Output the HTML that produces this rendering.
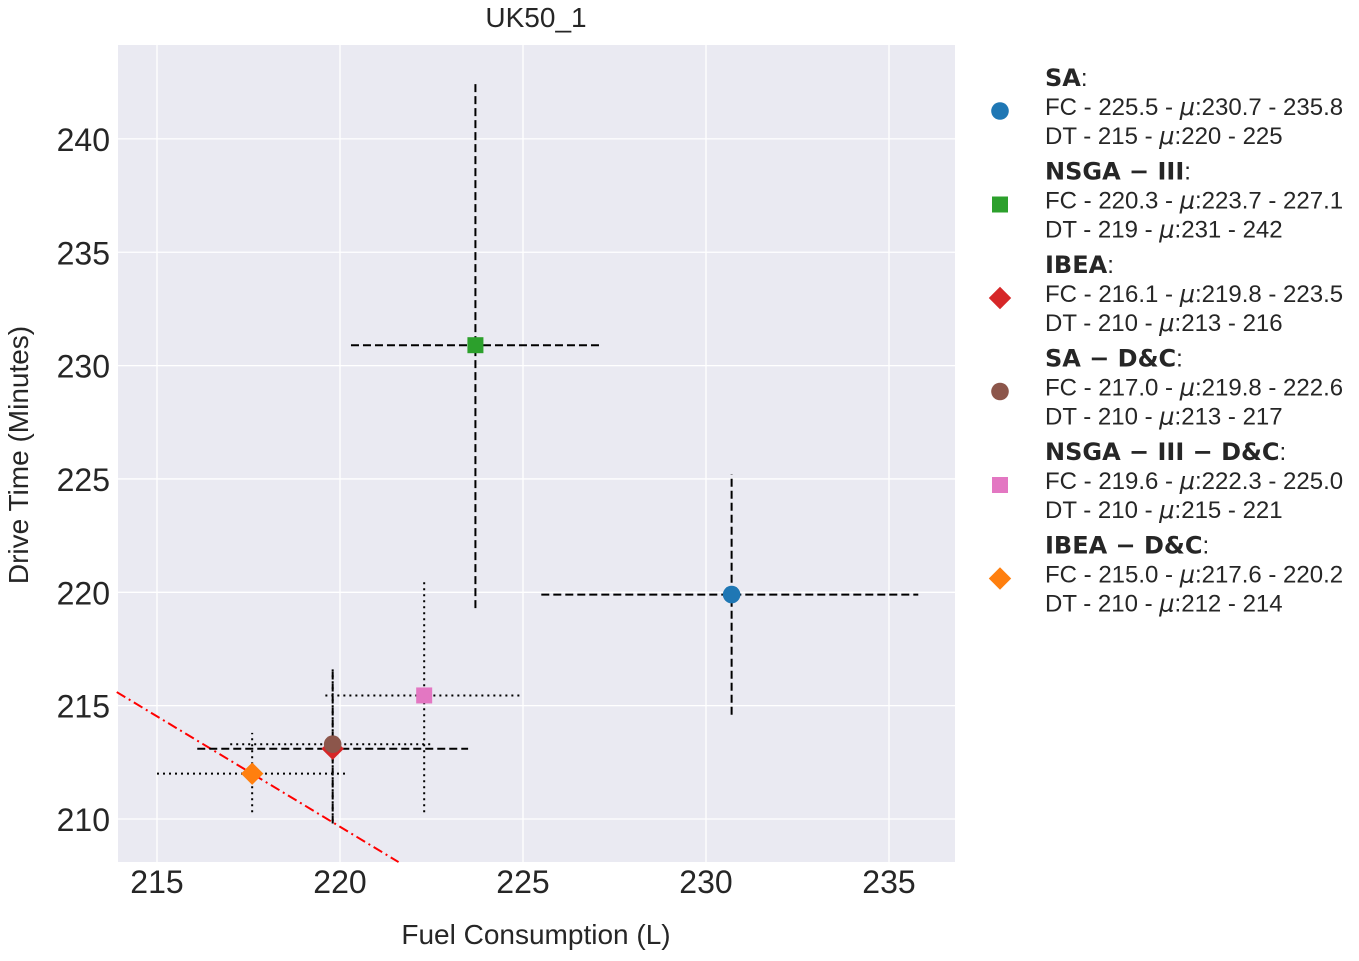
<!DOCTYPE html>
<html><head><meta charset="utf-8"><style>
body{margin:0;background:#fff;width:1359px;height:956px;overflow:hidden;font-family:"Liberation Sans",sans-serif;}
svg text{font-family:"Liberation Sans","DejaVu Sans",sans-serif;fill:#262626;}
</style></head><body>
<svg id="chart" width="1359" height="956" xmlns="http://www.w3.org/2000/svg">
<text x="536" y="27" font-size="28" text-anchor="middle">UK50_1</text>
<rect x="118" y="45" width="837" height="817" fill="#eaeaf2"/>
<g id="grid"></g><g id="marks"></g>
<text x="536" y="944" font-size="28" text-anchor="middle">Fuel Consumption (L)</text>
<text transform="translate(28,455) rotate(-90)" font-size="28" text-anchor="middle">Drive Time (Minutes)</text>
<g id="legend"></g>
</svg>
<script>
const names=["SA","NSGA − III","IBEA","SA − D&C","NSGA − III − D&C","IBEA − D&C"];
const colors=["#1f77b4","#2ca02c","#d62728","#8c564b","#e377c2","#ff7f0e"];
const shapes=["circle","square","diamond","circle","square","diamond"];
const styles=["dashed","dashed","dashed","dotted","dotted","dotted"];
const fcMean=[230.7,223.7,219.8,219.8,222.3,217.6];
const dtMean=[219.9,230.9,213.1,213.3,215.45,212.0];
const fcLo=[225.5,220.3,216.1,217.0,219.6,215.0];
const fcHi=[235.8,227.1,223.5,222.5,225.0,220.2];
const dtLo=[214.6,219.3,209.8,209.9,210.3,210.3];
const dtHi=[225.2,242.5,216.6,216.6,220.6,213.8];
const legFC=["FC - 225.5 - ","FC - 220.3 - ","FC - 216.1 - ","FC - 217.0 - ","FC - 219.6 - ","FC - 215.0 - "];
const legFCm=["230.7 - 235.8","223.7 - 227.1","219.8 - 223.5","219.8 - 222.6","222.3 - 225.0","217.6 - 220.2"];
const legDT=["DT - 215 - ","DT - 219 - ","DT - 210 - ","DT - 210 - ","DT - 210 - ","DT - 210 - "];
const legDTm=["220 - 225","231 - 242","213 - 216","213 - 217","215 - 221","212 - 214"];
const xTicks=[215,220,225,230,235];
const yTicks=[210,215,220,225,230,235,240];
const frontX=[213.9,221.6];
const frontY=[215.6,208.1];
const X=v=>157+(v-215)*36.6;
const Y=v=>819-(v-210)*22.67;
const NS="http://www.w3.org/2000/svg";
function mk(t,a,p){const e=document.createElementNS(NS,t);for(const k in a)e.setAttribute(k,a[k]);p.appendChild(e);return e;}
const grid=document.getElementById('grid'),marks=document.getElementById('marks'),leg=document.getElementById('legend'),svg=document.getElementById('chart');
xTicks.forEach(t=>{const l=mk('line',{x1:X(t),x2:X(t),y1:45,y2:862,stroke:'#fff','stroke-width':1.3},grid);


const tx=mk('text',{x:X(t),y:893,'font-size':32,'text-anchor':'middle'},svg);tx.textContent=t;

});
yTicks.forEach(t=>{const l=mk('line',{x1:118,x2:955,y1:Y(t),y2:Y(t),stroke:'#fff','stroke-width':1.3},grid);


const tx=mk('text',{x:110,y:Y(t)+12,'font-size':32,'text-anchor':'end'},svg);tx.textContent=t;

});
const fl=mk('line',{x1:X(frontX[0]),y1:Y(frontY[0]),x2:X(frontX[1]),y2:Y(frontY[1]),stroke:'#ff0000','stroke-width':2,'stroke-dasharray':'10,4,2,4'},marks);


function marker(s,cx,cy,c,p,sz){
 if(s==='circle')return mk('circle',{cx,cy,r:sz*0.55,fill:c},p);
 if(s==='square')return mk('rect',{x:cx-sz/2,y:cy-sz/2,width:sz,height:sz,fill:c},p);
 const r=sz*0.7;return mk('polygon',{points:`${cx},${cy-r} ${cx+r},${cy} ${cx},${cy+r} ${cx-r},${cy}`,fill:c},p);}
names.forEach((n,i)=>{
 const da=styles[i]==='dashed'?'8,4':'2,4';
 const g=mk('g',{},marks);
 
 
 mk('line',{x1:X(fcLo[i]),x2:X(fcHi[i]),y1:Y(dtMean[i]),y2:Y(dtMean[i]),stroke:'#000','stroke-width':2,'stroke-dasharray':da},g);
 mk('line',{x1:X(fcMean[i]),x2:X(fcMean[i]),y1:Y(dtLo[i]),y2:Y(dtHi[i]),stroke:'#000','stroke-width':2,'stroke-dasharray':da},g);
});
names.forEach((n,i)=>{
 const m=marker(shapes[i],X(fcMean[i]),Y(dtMean[i]),colors[i],marks,16);
 
 
 const y0=78+i*93.5;
 const lm=marker(shapes[i],1000,y0+33,colors[i],leg,16);
 
 
 const t1=mk('text',{x:1045,y:y0+8,'font-size':24},leg);
 t1.innerHTML='<tspan font-weight="bold" font-family="DejaVu Sans">'+n.replace('&','&amp;')+'</tspan>:';
 
 
 const t2=mk('text',{x:1045,y:y0+37,'font-size':24},leg);
 t2.innerHTML=legFC[i]+'<tspan font-style="italic" font-family="DejaVu Sans">μ</tspan>:'+legFCm[i];
 
 
 const t3=mk('text',{x:1045,y:y0+66,'font-size':24},leg);
 t3.innerHTML=legDT[i]+'<tspan font-style="italic" font-family="DejaVu Sans">μ</tspan>:'+legDTm[i];
 
 
});
</script>
</body></html>
